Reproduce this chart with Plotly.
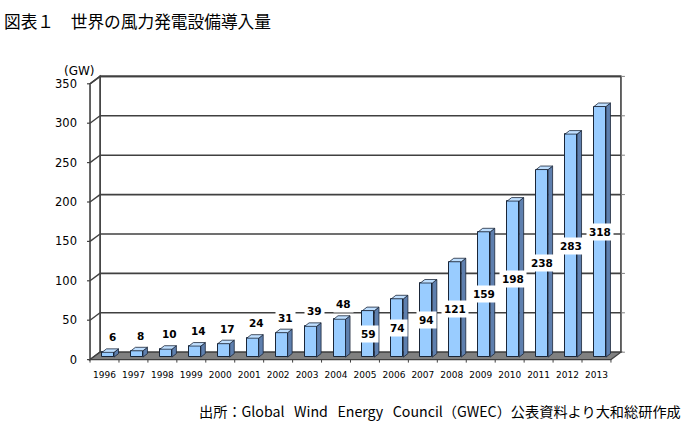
import plotly.graph_objects as go

# data
years = [str(y) for y in range(1996, 2014)]
capacity = [6, 8, 10, 14, 17, 24, 31, 39, 48, 59, 74, 94, 121, 159, 198, 238, 283, 318]
y_ticks = [0, 50, 100, 150, 200, 250, 300, 350]

title_text = "図表１　世界の風力発電設備導入量"
unit_text = "(GW)"
sp = "\u00a0" * 3
source_text = f"出所：Global{sp}Wind{sp}Energy{sp}Council（GWEC）公表資料より大和総研作成"

W, H = 687, 428

# plot area in pixels, and bar-plane scale
L, R, T, B = 84, 628, 70, 364
X0_PX, STEP_PX = 108.0, 28.94      # centre of the first bar, spacing
Y0_PX, PPU = 357.1, 0.788          # zero line of the bar plane, px per GW


def ux(px):
    return px / STEP_PX


def uy(px):
    return px / PPU


x_range = [(L - X0_PX) / STEP_PX, (R - X0_PX) / STEP_PX]
y_range = [-(B - Y0_PX) / PPU, (Y0_PX - T) / PPU]

# depth offsets of the front edge and the back wall (relative to bar fronts)
fx, fy = ux(-3.5), uy(-2.5)
bx, by = ux(6.5), uy(4.9)
# depth of a bar
dpx, dpy = ux(4.5), uy(3.5)

n = len(years)
idx = list(range(n))
xl, xr = -0.5, n - 0.5
ymax = y_ticks[-1]

LINE = "#404040"
shapes = []

# back wall and left wall
shapes.append(dict(type="rect", layer="below", xref="x", yref="y",
                   x0=xl + bx, x1=xr + bx, y0=by, y1=ymax + by,
                   fillcolor="white", line=dict(color=LINE, width=1.6)))
shapes.append(dict(type="path", layer="below", xref="x", yref="y",
                   path=f"M{xl+fx},{fy} L{xl+fx},{ymax+fy} L{xl+bx},{ymax+by} L{xl+bx},{by} Z",
                   fillcolor="white", line=dict(color=LINE, width=1.6)))

# gridlines on the walls, ticks on the front edge and on the right side
for v in y_ticks:
    if v > 0:
        shapes.append(dict(type="line", layer="below", xref="x", yref="y",
                           x0=xl + bx, x1=xr + bx, y0=v + by, y1=v + by,
                           line=dict(color=LINE, width=1.6)))
        shapes.append(dict(type="line", layer="below", xref="x", yref="y",
                           x0=xl + fx, x1=xl + bx, y0=v + fy, y1=v + by,
                           line=dict(color=LINE, width=1.4)))
    shapes.append(dict(type="line", layer="below", xref="x", yref="y",
                       x0=xl + fx - ux(3), x1=xl + fx, y0=v + fy, y1=v + fy,
                       line=dict(color=LINE, width=1.2)))
    shapes.append(dict(type="line", layer="below", xref="x", yref="y",
                       x0=xr + bx, x1=xr + bx + ux(4), y0=v + by, y1=v + by,
                       line=dict(color="#808080", width=1)))

# floor
shapes.append(dict(type="path", layer="below", xref="x", yref="y",
                   path=f"M{xl+fx},{fy} L{xr+fx},{fy} L{xr+bx},{by} L{xl+bx},{by} Z",
                   fillcolor="#808080", line=dict(color=LINE, width=1.2)))
for k in range(n + 1):
    shapes.append(dict(type="line", layer="below", xref="x", yref="y",
                       x0=k - 0.5 + fx, x1=k - 0.5 + fx, y0=fy, y1=fy - uy(3),
                       line=dict(color=LINE, width=1)))

# 3d faces of the bars
bw = 12 / STEP_PX
for i, v in zip(idx, capacity):
    r = i + bw / 2
    lft = i - bw / 2
    shapes.append(dict(type="path", layer="above", xref="x", yref="y",
                       path=f"M{r},0 L{r},{v} L{r+dpx},{v+dpy} L{r+dpx},{dpy} Z",
                       fillcolor="#5E7FAE", line=dict(color="#1A2638", width=0.8)))
    shapes.append(dict(type="path", layer="above", xref="x", yref="y",
                       path=f"M{lft},{v} L{r},{v} L{r+dpx},{v+dpy} L{lft+dpx},{v+dpy} Z",
                       fillcolor="#BFDFFF", line=dict(color="#1A2638", width=0.8)))

fig = go.Figure()
fig.add_trace(go.Bar(
    x=idx, y=capacity, width=bw,
    marker=dict(color="#99CCFF", line=dict(color="#1A2638", width=1)),
    hoverinfo="skip", showlegend=False,
))

annotations = []
# value labels: above the small bars, centred inside the tall ones
for i, v in zip(idx, capacity):
    if v < 50:
        ax, ay = i + ux(4), v + uy(15)
    else:
        ax, ay = i, v / 2
    annotations.append(dict(
        x=ax, y=ay, xref="x", yref="y", text=str(v), showarrow=False,
        font=dict(family="DejaVu Sans", size=10.5, color="#000000", weight="bold"),
        bgcolor="white", borderpad=2, xanchor="center", yanchor="middle",
    ))


def paper_x(px):
    return (px - L) / (R - L)


def paper_y(py):
    return (B - py) / (B - T)


annotations.append(dict(
    x=paper_x(97), y=paper_y(71), xref="paper", yref="paper", text=unit_text,
    showarrow=False, xanchor="right", yanchor="middle",
    font=dict(family="DejaVu Sans", size=12, color="#000000"),
))
annotations.append(dict(
    x=paper_x(683), y=paper_y(410.5), xref="paper", yref="paper", text=source_text,
    showarrow=False, xanchor="right", yanchor="middle",
    font=dict(family="Noto Sans CJK JP", size=14.2, color="#000000"),
))

fig.update_layout(
    width=W, height=H,
    margin=dict(l=L, r=W - R, t=T, b=H - B, pad=0),
    paper_bgcolor="white", plot_bgcolor="white",
    title=dict(text=title_text, x=4 / W, y=1 - 22 / H, xref="container", yref="container",
               xanchor="left", yanchor="middle",
               font=dict(family="Noto Sans CJK JP", size=16.7, color="#000000")),
    xaxis=dict(range=x_range, showgrid=False, zeroline=False, showline=False,
               tickmode="array", tickvals=[i + fx for i in idx], ticktext=years,
               ticks="", ticklabelstandoff=4,
               tickfont=dict(family="DejaVu Sans", size=9, color="#000000")),
    yaxis=dict(range=y_range, showgrid=False, zeroline=False, showline=False,
               tickmode="array", tickvals=[v + fy for v in y_ticks],
               ticktext=[str(v) for v in y_ticks],
               ticks="", ticklabelstandoff=6,
               tickfont=dict(family="DejaVu Sans", size=11.5, color="#000000")),
    shapes=shapes,
    annotations=annotations,
    bargap=0,
)

# the page's default body margin would push the figure 8px in
fig.write_html("out.html", config={"displayModeBar": False},
               post_script="document.body.style.margin='0';")
